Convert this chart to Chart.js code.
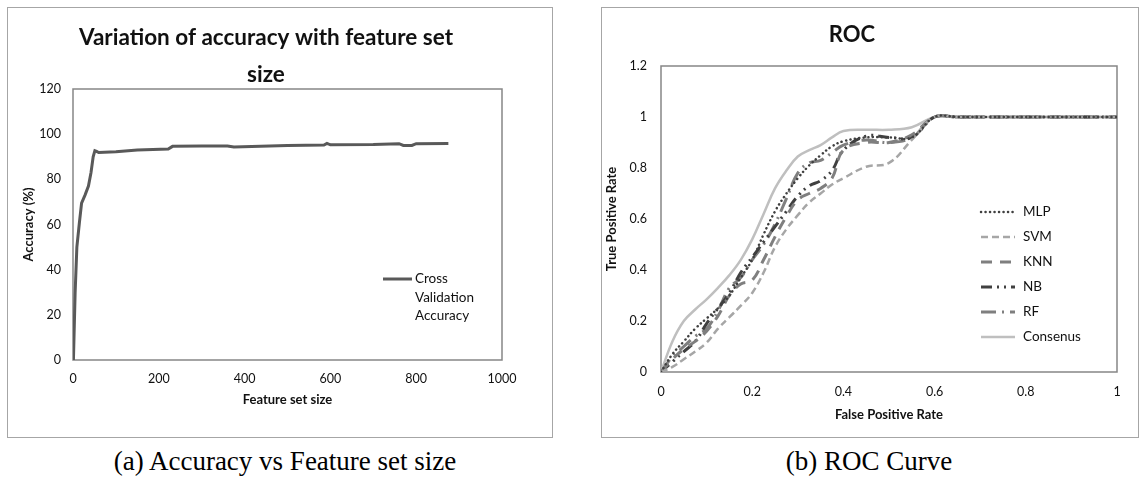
<!DOCTYPE html>
<html><head><meta charset="utf-8">
<script src="https://cdn.jsdelivr.net/npm/chart.js@4.4.0/dist/chart.umd.min.js"></script>
<style>
html,body{margin:0;padding:0;background:#fff;}
body{width:1141px;height:482px;position:relative;overflow:hidden;font-family:Lato,sans-serif;}
.box{position:absolute;border:1px solid #a6a6a6;box-sizing:border-box;background:#fff;}
#boxA{left:7px;top:7px;width:546px;height:431px;}
#boxB{left:601px;top:7px;width:538px;height:431px;}
.box canvas{position:absolute;left:0;top:0;}
.cap{position:absolute;top:446px;font-family:"Liberation Serif","Times New Roman",serif;font-size:27px;color:#000;text-align:center;white-space:nowrap;width:500px;}
</style></head>
<body>
<div class="box" id="boxA"><canvas id="cA" width="544" height="429"></canvas></div>
<div class="box" id="boxB"><canvas id="cB" width="536" height="429"></canvas></div>
<div class="cap" style="left:35px;">(a) Accuracy vs Feature set size</div>
<div class="cap" style="left:619px;">(b) ROC Curve</div>
<script>
// ---------- Chart (a) data ----------
const featureSetSize = [1, 5, 9, 15, 20, 28, 36, 42, 47, 51, 55, 60, 100, 150, 222, 232, 300, 360, 375, 500, 585, 592, 600, 700, 760, 770, 790, 800, 875];
const accuracy       = [0, 30, 50, 61, 69.5, 73, 77, 83, 90, 92.7, 92.4, 91.9, 92.2, 93, 93.4, 94.6, 94.8, 94.8, 94.3, 95, 95.2, 95.9, 95.3, 95.4, 95.8, 95, 95, 95.8, 95.9];
const accXTicks = [0, 200, 400, 600, 800, 1000];
const accYTicks = [0, 20, 40, 60, 80, 100, 120];
const accSeriesName = 'Cross Validation Accuracy';

// ---------- Chart (b) data ----------
const fpr      = [0, 0.025, 0.05, 0.075, 0.1, 0.125, 0.15, 0.175, 0.2, 0.225, 0.25, 0.275, 0.3, 0.325, 0.35, 0.375, 0.4, 0.45, 0.5, 0.55, 0.6, 0.65, 1.0];
const tprMLP   = [0, 0.07, 0.12, 0.17, 0.21, 0.25, 0.30, 0.37, 0.44, 0.54, 0.63, 0.70, 0.76, 0.81, 0.85, 0.885, 0.905, 0.92, 0.92, 0.92, 1, 1, 1];
const tprSVM   = [0, 0.02, 0.05, 0.08, 0.115, 0.17, 0.215, 0.26, 0.31, 0.39, 0.49, 0.56, 0.615, 0.665, 0.70, 0.735, 0.76, 0.805, 0.82, 0.91, 1, 1, 1];
const tprKNN   = [0, 0.05, 0.09, 0.12, 0.16, 0.22, 0.30, 0.345, 0.36, 0.44, 0.53, 0.61, 0.675, 0.70, 0.72, 0.76, 0.87, 0.90, 0.90, 0.93, 1, 1, 1];
const tprNB    = [0, 0.04, 0.08, 0.12, 0.19, 0.25, 0.31, 0.39, 0.45, 0.51, 0.57, 0.63, 0.69, 0.73, 0.75, 0.79, 0.87, 0.925, 0.92, 0.92, 1, 1, 1];
const tprRF    = [0, 0.06, 0.10, 0.14, 0.17, 0.24, 0.33, 0.37, 0.44, 0.50, 0.58, 0.68, 0.78, 0.82, 0.83, 0.86, 0.89, 0.91, 0.90, 0.92, 1, 1, 1];
const tprCons  = [0, 0.12, 0.20, 0.245, 0.285, 0.33, 0.38, 0.44, 0.52, 0.62, 0.72, 0.79, 0.845, 0.87, 0.89, 0.92, 0.945, 0.95, 0.95, 0.96, 1, 1, 1];
const rocSeriesNames = ['MLP', 'SVM', 'KNN', 'NB', 'RF', 'Consenus'];
const rocXTickValues = [0, 0.2, 0.4, 0.6, 0.8, 1];
const rocXTickLabels = ['0', '0.2', '0.4', '0.6', '0.8', '1'];
const rocYTickValues = [0, 0.2, 0.4, 0.6, 0.8, 1, 1.2];
const rocYTickLabels = ['0', '0.2', '0.4', '0.6', '0.8', '1', '1.2'];

const FONT = 'Lato, "Open Sans", sans-serif';
const TXT = '#111';

// plot-area border
const frame = {
  id: 'frame',
  beforeDatasetsDraw(chart) {
    const a = chart.chartArea, c = chart.ctx;
    c.save(); c.strokeStyle = '#868686'; c.lineWidth = 1.5;
    c.strokeRect(a.left, a.top, a.right - a.left, a.bottom - a.top);
    c.restore();
  }
};
// chart title text + legend drawn with dataset styles
const deco = {
  id: 'deco',
  afterDraw(chart, args, o) {
    const c = chart.ctx;
    c.save();
    c.fillStyle = TXT; c.textAlign = 'center'; c.textBaseline = 'middle';
    c.font = 'bold ' + o.titleSize + 'px ' + FONT;
    o.title.forEach((t, i) => c.fillText(t, o.titleX, o.titleY[i]));
    c.font = o.legSize + 'px ' + FONT; c.textAlign = 'left';
    let y = o.legY;
    chart.data.datasets.forEach(ds => {
      c.save();
      c.strokeStyle = ds.borderColor; c.lineWidth = ds.borderWidth;
      c.setLineDash(ds.borderDash || []); c.lineCap = ds.borderCapStyle || 'butt';
      c.beginPath(); c.moveTo(o.legX0, y); c.lineTo(o.legX1, y); c.stroke();
      c.restore();
      const words = ds.label.split(' '); const lines = []; let cur = '';
      words.forEach(w => { const t = cur ? cur + ' ' + w : w; if (cur && c.measureText(t).width > o.legWrap) { lines.push(cur); cur = w; } else cur = t; });
      lines.push(cur);
      lines.forEach((l, i) => c.fillText(l, o.legTextX, y + i * o.legLineH));
      y += o.legGap;
    });
    c.restore();
  }
};

function axisCommon(min, max, tickVals, tickLabels, title, titlePad, tickPad, fit) {
  return {
    type: 'linear', min, max,
    afterBuildTicks: s => { s.ticks = tickVals.map(v => ({ value: v })); },
    afterFit: fit,
    grid: { display: false, drawTicks: false },
    border: { display: false },
    ticks: { color: TXT, padding: tickPad, font: { family: FONT, size: 12.5 },
      callback: (v, i) => tickLabels[i] },
    title: { display: true, text: title, color: TXT, padding: titlePad, font: { family: FONT, size: 13, weight: 'bold' } }
  };
}

new Chart(document.getElementById('cA'), {
  type: 'line',
  data: { datasets: [{
    label: accSeriesName,
    data: featureSetSize.map((x, i) => ({ x, y: accuracy[i] })),
    borderColor: '#595959', borderWidth: 3, pointRadius: 0, tension: 0, fill: false
  }]},
  options: {
    responsive: false, animation: false, events: [],
    layout: { padding: { left: 0, top: 81, right: 50, bottom: 0 } },
    plugins: { legend: { display: false }, tooltip: { enabled: false }, title: { display: false },
      deco: { title: ['Variation of accuracy with feature set', 'size'], titleSize: 22.5, titleX: 258, titleY: [30, 67],
              legSize: 13.5, legX0: 375, legX1: 404, legTextX: 407, legY: 271, legLineH: 18.5, legGap: 25, legWrap: 70 } },
    scales: {
      x: axisCommon(0, 1000, accXTicks, accXTicks.map(String), 'Feature set size', { top: 0, bottom: 29 }, 11, s => { s.height = 77; }),
      y: axisCommon(0, 120, accYTicks, accYTicks.map(String), 'Accuracy (%)', { top: 13, bottom: 0 }, 12, s => { s.width = 65; })
    }
  },
  plugins: [frame, deco]
});

const rocStyles = [
  { c: '#404040', w: 2.5, d: [0.1, 4.4], cap: 'round' },
  { c: '#a6a6a6', w: 2.5, d: [7, 4] },
  { c: '#7f7f7f', w: 3, d: [11, 8] },
  { c: '#404040', w: 3, d: [11, 5, 2, 5, 2, 5] },
  { c: '#7f7f7f', w: 3, d: [15, 6, 2, 6] },
  { c: '#bfbfbf', w: 2.5, d: [] }
];
const rocSeries = [tprMLP, tprSVM, tprKNN, tprNB, tprRF, tprCons];

new Chart(document.getElementById('cB'), {
  type: 'line',
  data: { datasets: rocSeries.map((s, k) => ({
    label: rocSeriesNames[k],
    data: fpr.map((x, i) => ({ x, y: s[i] })),
    borderColor: rocStyles[k].c, borderWidth: rocStyles[k].w, borderDash: rocStyles[k].d,
    borderCapStyle: rocStyles[k].cap || 'butt',
    pointRadius: 0, tension: 0.4, fill: false
  }))},
  options: {
    responsive: false, animation: false, events: [],
    layout: { padding: { left: 0, top: 58, right: 21, bottom: 0 } },
    plugins: { legend: { display: false }, tooltip: { enabled: false }, title: { display: false },
      deco: { title: ['ROC'], titleSize: 22, titleX: 250, titleY: [27],
              legSize: 13.5, legX0: 379, legX1: 413, legTextX: 421, legY: 204, legLineH: 18, legGap: 25, legWrap: 200 } },
    scales: {
      x: axisCommon(0, 1, rocXTickValues, rocXTickLabels, 'False Positive Rate', { top: 0, bottom: 14 }, 12, s => { s.height = 65; }),
      y: axisCommon(0, 1.2, rocYTickValues, rocYTickLabels, 'True Positive Rate', { top: 2, bottom: 0 }, 14, s => { s.width = 59; })
    }
  },
  plugins: [frame, deco]
});
</script>
</body></html>
